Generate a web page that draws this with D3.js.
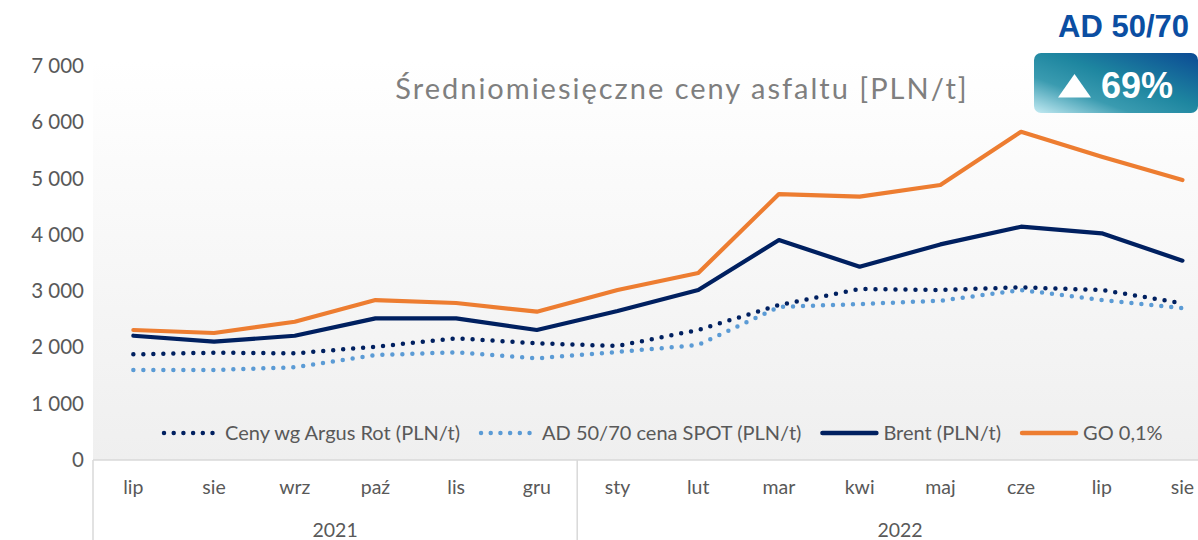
<!DOCTYPE html>
<html>
<head>
<meta charset="utf-8">
<script src="https://cdn.jsdelivr.net/npm/d3@7"></script>
<style>
  body { margin: 0; background: #fff; }
  svg { display: block; font-family: Lato, "Open Sans", sans-serif; }
</style>
</head>
<body>
<svg id="chart"></svg>
<script>
const months = ['lip', 'sie', 'wrz', 'paź', 'lis', 'gru', 'sty', 'lut', 'mar', 'kwi', 'maj', 'cze', 'lip', 'sie']
const monthYears = [2021, 2021, 2021, 2021, 2021, 2021, 2022, 2022, 2022, 2022, 2022, 2022, 2022, 2022]
const years = [2021, 2022]
const yTicks = [0, 1000, 2000, 3000, 4000, 5000, 6000, 7000]

const argus = [1877, 1907, 1895, 2013, 2162, 2073, 2025, 2310, 2754, 3038, 3020, 3068, 3020, 2784]
const adSpot = [1599, 1599, 1647, 1865, 1913, 1807, 1920, 2043, 2720, 2770, 2830, 3020, 2842, 2700]
const brent = [2208, 2102, 2208, 2517, 2517, 2310, 2647, 3020, 3908, 3434, 3830, 4145, 4027, 3541]
const go = [2310, 2256, 2457, 2842, 2789, 2635, 3020, 3322, 4725, 4678, 4885, 5832, 5388, 4974]

const series = [
    { name: 'Ceny wg Argus Rot (PLN/t)', values: argus, color: '#002060', dotted: true },
    { name: 'AD 50/70 cena SPOT (PLN/t)', values: adSpot, color: '#5B9BD5', dotted: true },
    { name: 'Brent (PLN/t)', values: brent, color: '#002060', dotted: false },
    { name: 'GO 0,1%', values: go, color: '#ED7D31', dotted: false },
]

const WIDTH = 1198
const HEIGHT = 540
const LEFT = 93
const BAND = 80.7
const BOTTOM = 460

const svg = d3.select('#chart')
    .attr('width', WIDTH)
    .attr('height', HEIGHT)
    .attr('viewBox', [0, 0, WIDTH, HEIGHT].join(' '))

const defs = svg.append('defs')

// plot background: white at top fading to light grey
const bg = defs.append('linearGradient')
    .attr('id', 'plotBg')
    .attr('x1', 0).attr('y1', 0).attr('x2', 0).attr('y2', 1)
bg.append('stop').attr('offset', '0%').attr('stop-color', '#ffffff')
bg.append('stop').attr('offset', '100%').attr('stop-color', '#efefef')

const badgeBg = defs.append('linearGradient')
    .attr('id', 'badgeBg')
    .attr('x1', 0).attr('y1', 1).attr('x2', 1).attr('y2', 0)
badgeBg.append('stop').attr('offset', '0%').attr('stop-color', '#c4ebf3')
badgeBg.append('stop').attr('offset', '30%').attr('stop-color', '#3a9bb0')
badgeBg.append('stop').attr('offset', '55%').attr('stop-color', '#1e86a0')
badgeBg.append('stop').attr('offset', '100%').attr('stop-color', '#0b4a94')

const keys = months.map((m, i) => i)

const x = d3.scaleBand()
    .domain(keys)
    .range([LEFT, LEFT + BAND * months.length])

const y = d3.scaleLinear()
    .domain([0, 7000])
    .range([BOTTOM, 66])

svg.append('rect')
    .attr('x', LEFT)
    .attr('y', 60)
    .attr('width', WIDTH - LEFT)
    .attr('height', BOTTOM - 60)
    .attr('fill', 'url(#plotBg)')

// title
svg.append('text')
    .attr('x', 682)
    .attr('y', 99)
    .attr('text-anchor', 'middle')
    .attr('fill', '#7f7f7f')
    .attr('font-size', 29)
    .attr('letter-spacing', 2)
    .text('Średniomiesięczne ceny asfaltu [PLN/t]')

// y axis
const fmt = d3.formatLocale({ decimal: ',', thousands: ' ', grouping: [3], currency: ['', ''] }).format(',')
const yAxis = svg.append('g')
    .attr('transform', `translate(${LEFT - 9},0)`)
    .call(d3.axisLeft(y).tickValues(yTicks).tickSize(0).tickPadding(0).tickFormat(fmt))
yAxis.select('.domain').remove()
yAxis.selectAll('text')
    .attr('fill', '#595959')
    .attr('font-size', 20.5)
    .attr('font-family', 'Lato, sans-serif')

// category axis box
const boxColor = '#d9d9d9'
svg.append('line')
    .attr('x1', LEFT).attr('x2', WIDTH)
    .attr('y1', BOTTOM).attr('y2', BOTTOM)
    .attr('stroke', boxColor).attr('stroke-width', 1.5)
const yearStarts = years.map(yr => monthYears.indexOf(yr))
svg.selectAll('.year-sep')
    .data(yearStarts)
    .join('line')
    .attr('class', 'year-sep')
    .attr('x1', d => x(d)).attr('x2', d => x(d))
    .attr('y1', BOTTOM).attr('y2', HEIGHT)
    .attr('stroke', boxColor).attr('stroke-width', 1.5)

const xAxis = svg.append('g')
    .attr('transform', `translate(0,${BOTTOM})`)
    .call(d3.axisBottom(x).tickSize(0).tickPadding(20).tickFormat(i => months[i]))
xAxis.select('.domain').remove()
xAxis.selectAll('text')
    .attr('fill', '#595959')
    .attr('font-size', 19.5)
    .attr('font-family', 'Lato, sans-serif')

svg.selectAll('.year-label')
    .data(years)
    .join('text')
    .attr('class', 'year-label')
    .attr('x', yr => {
        const idx = keys.filter(i => monthYears[i] === yr)
        return (x(idx[0]) + x(idx[idx.length - 1]) + x.bandwidth()) / 2
    })
    .attr('y', 537)
    .attr('text-anchor', 'middle')
    .attr('fill', '#595959')
    .attr('font-size', 19.5)
    .text(d => d)

// lines
const line = d3.line()
    .x((d, i) => x(i) + x.bandwidth() / 2)
    .y(d => y(d))

svg.append('g')
    .selectAll('path')
    .data(series)
    .join('path')
    .attr('d', d => line(d.values))
    .attr('fill', 'none')
    .attr('stroke', d => d.color)
    .attr('stroke-width', d => d.dotted ? 4.5 : 4.2)
    .attr('stroke-linecap', 'round')
    .attr('stroke-linejoin', 'round')
    .attr('stroke-dasharray', d => d.dotted ? '0 10' : null)

// legend
const legend = svg.append('g').attr('transform', 'translate(162,433)')
let lx = 0
series.forEach(s => {
    legend.append('line')
        .attr('x1', lx + 2).attr('x2', lx + 56)
        .attr('y1', 0).attr('y2', 0)
        .attr('stroke', s.color)
        .attr('stroke-width', 4.5)
        .attr('stroke-linecap', 'round')
        .attr('stroke-dasharray', s.dotted ? '0 9.7' : null)
    const t = legend.append('text')
        .attr('x', lx + 63)
        .attr('y', 7)
        .attr('fill', '#595959')
        .attr('font-size', 20)
        .text(s.name)
    lx += 63 + t.node().getComputedTextLength() + 19
})

// badge
svg.append('text')
    .attr('x', 1189)
    .attr('y', 37)
    .attr('text-anchor', 'end')
    .attr('fill', '#0b4ea2')
    .attr('font-family', '"Liberation Sans", Arial, sans-serif')
    .attr('font-weight', 'bold')
    .attr('font-size', 31)
    .text('AD 50/70')

svg.append('rect')
    .attr('x', 1034).attr('y', 53)
    .attr('width', 164).attr('height', 60)
    .attr('rx', 7)
    .attr('fill', 'url(#badgeBg)')

svg.append('path')
    .attr('d', 'M1058,97.5 L1091,97.5 L1074.5,74 Z')
    .attr('fill', '#ffffff')

svg.append('text')
    .attr('x', 1101)
    .attr('y', 97.5)
    .attr('fill', '#ffffff')
    .attr('font-family', '"Liberation Sans", Arial, sans-serif')
    .attr('font-weight', 'bold')
    .attr('font-size', 36)
    .text('69%')
</script>
</body>
</html>
